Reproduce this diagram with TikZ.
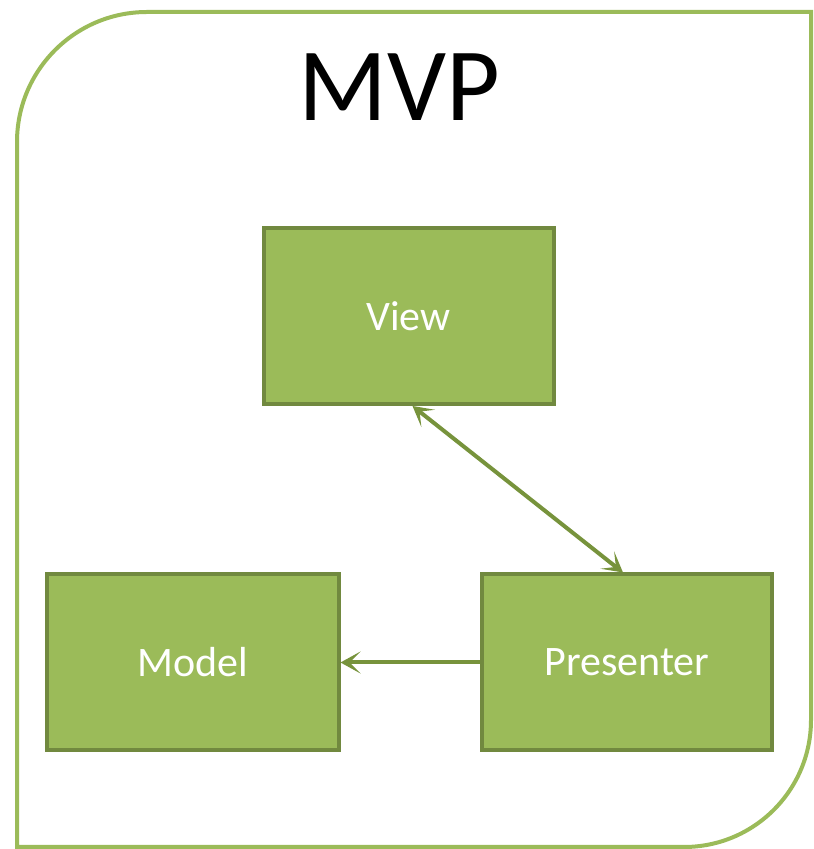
\documentclass[tikz,border=0pt]{standalone}
\usepackage{fontspec}
\setmainfont{Carlito}
\usetikzlibrary{arrows.meta}
\definecolor{boxfill}{HTML}{9BBB59}
\definecolor{boxline}{HTML}{71893F}
\definecolor{arrowc}{HTML}{77933C}
\tikzset{
  mvpbox/.style={draw=boxline, fill=boxfill, line width=4pt, minimum width=290pt, minimum height=176pt, inner sep=0pt, text=white, font=\fontsize{42}{46}\selectfont},
  tipc/.style={Stealth[length=20pt,width=22pt,inset=11pt]},
  conn/.style={draw=arrowc, line width=4pt, {Stealth[length=20pt,width=22pt,inset=11pt]}-{Stealth[length=20pt,width=22pt,inset=11pt]}},
  conn1/.style={draw=arrowc, line width=4pt, -{Stealth[length=20pt,width=22pt,inset=11pt]}}
}
\begin{document}
\begin{tikzpicture}[x=1pt,y=1pt]
\useasboundingbox (0,0) rectangle (814,849);
\draw[boxfill, line width=4pt] (17,2) -- (17,707) arc[start angle=180, end angle=90, radius=130] -- (811,837) -- (811,129) arc[start angle=0, end angle=-90, radius=127] -- cycle;
\node[font=\fontsize{104}{110}\selectfont] (mvp) at (399,762) {MVP};
\node[mvpbox] (view) at (408.5,533) {View};
\node[mvpbox, minimum width=292pt] (model) at (192.5,186.5) {Model};
\node[mvpbox] (presenter) at (627,186.5) {Presenter};
\draw[conn] ([xshift=4pt]view.south) -- ([xshift=-4pt]presenter.north);
\draw[conn1] (presenter.west) -- (model.east);
\end{tikzpicture}
\end{document}
